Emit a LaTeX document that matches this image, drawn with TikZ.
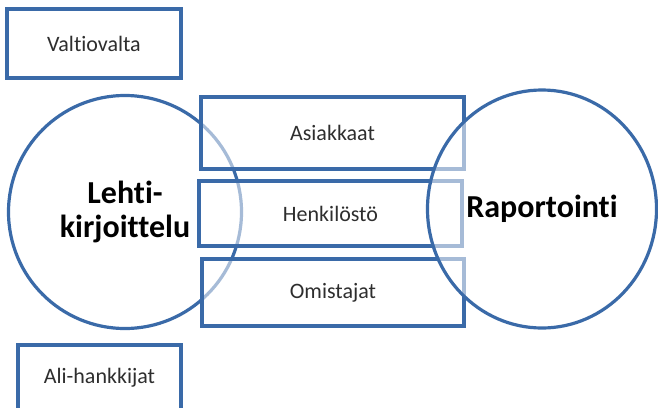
\documentclass[tikz,border=0pt]{standalone}
\usepackage{fontspec}
\setmainfont{Carlito}[Ligatures=NoCommon]
\usetikzlibrary{shapes.geometric}
\definecolor{bb}{RGB}{58,106,168}
\begin{document}
\begin{tikzpicture}[x=1pt,y=-1pt,
  box/.style={draw=bb, line width=3.2pt, fill=white, fill opacity=0.55, text opacity=1,
    inner sep=0pt, text=black!82, font=\fontsize{22}{26}\selectfont},
  solidbox/.style={box, fill opacity=1},
  circ/.style={draw=bb, line width=3.2pt, fill=white, fill opacity=0.55, text opacity=1,
    inner sep=0pt, align=center, text=black, font=\bfseries\fontsize{32}{34}\selectfont}]
\useasboundingbox (0,0) rectangle (658,407);
\fill[white] (0,0) rectangle (658,407);
% side boxes
\node[solidbox, minimum width=174pt, minimum height=69pt] (valtio) at (94,43.5) {Valtiovalta};
\node[solidbox, minimum width=163pt, minimum height=66pt] (ali) at (99.5,378) {Ali-hankkijat};
% left circle
\node[circ, circle, minimum size=233pt] (lehti) at (125,212) {Lehti-\\kirjoittelu};
% middle boxes
\node[box, minimum width=263pt, minimum height=72pt] (asiak) at (332.5,133) {Asiakkaat};
\node[box, minimum width=263pt, minimum height=65pt] (henk) at (330.5,213.5) {Henkilöstö};
\node[box, minimum width=262pt, minimum height=67pt] (omist) at (333,292.5) {Omistajat};
% right circle
\node[circ, ellipse, minimum width=229pt, minimum height=238pt] (rap) at (542,209) {Raportointi};
\end{tikzpicture}
\end{document}
